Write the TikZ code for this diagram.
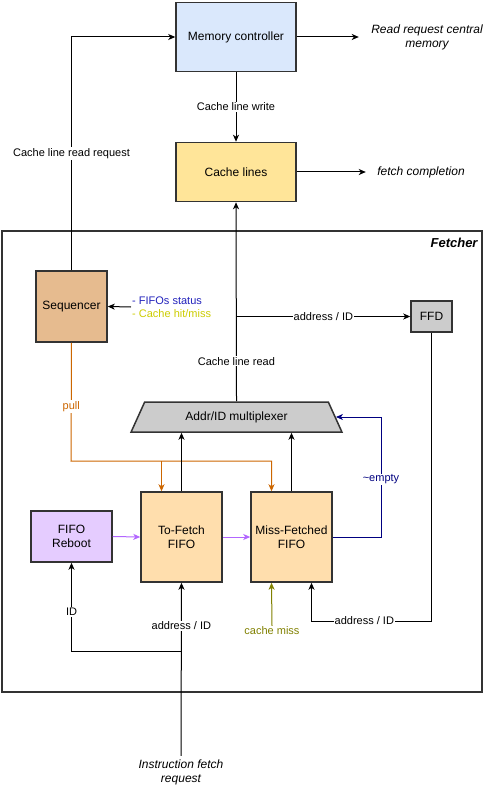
\documentclass[tikz,border=0pt]{standalone}
\usepackage{fontspec}
\setmainfont{Liberation Sans}
\usetikzlibrary{arrows.meta,shapes.geometric}

\definecolor{boxline}{HTML}{333333}
\definecolor{memblue}{HTML}{DAE8FC}
\definecolor{cacheyel}{HTML}{FFE599}
\definecolor{seqbrown}{HTML}{E6BB8F}
\definecolor{fifoorange}{HTML}{FFDEAD}
\definecolor{rebootpurple}{HTML}{E5CCFF}
\definecolor{muxgray}{HTML}{CCCCCC}
\definecolor{statusblue}{HTML}{2222BB}
\definecolor{hityellow}{HTML}{CCCC00}
\definecolor{pullorange}{HTML}{CC6600}
\definecolor{emptynavy}{HTML}{000080}
\definecolor{missolive}{HTML}{808000}
\definecolor{pushpurple}{HTML}{B266FF}

\tikzset{
  block/.style={draw=boxline, line width=1.5pt, align=center, inner sep=0pt,
    font=\fontsize{12}{14}\selectfont},
  arr/.style={-{Stealth[length=7pt,width=6pt,inset=2pt]}, line width=1pt},
  lbl/.style={fill=white, inner sep=1pt, font=\fontsize{11}{13}\selectfont},
  note/.style={align=center, font=\fontsize{12}{14}\selectfont\itshape},
}

\begin{document}
\begin{tikzpicture}[x=1pt, y=-1pt]
		\useasboundingbox (0,0) rectangle (492,802);
		
		% el marco del fetcher
		\node[draw=boxline, line width=1.5pt, minimum width=480pt, minimum height=461pt, inner sep=0pt] (fetcher) at (242,461.5) {};
		\node[anchor=north east, inner sep=0pt, font=\fontsize{13}{15}\selectfont\bfseries\itshape] (fetcherlbl) at ([shift={(-5pt,-8pt)}]fetcher.north east) {Fetcher};
		
		% bloques de arriba
		\node[block, fill=memblue, minimum width=120pt, minimum height=69pt] (mc) at (236,37) {Memory controller};
		\node[block, fill=cacheyel, minimum width=120pt, minimum height=59pt] (cl) at (236,172) {Cache lines};
		\node[note] (rdreq) at (427,37) {Read request central\\memory};
		\node[note] (fcomp) at (421,172) {fetch completion};
		
		% bloques del fetcher
		\node[block, fill=seqbrown, minimum width=71pt, minimum height=71pt] (seq) at (71.5,306.5) {Sequencer};
		\node[block, fill=muxgray, minimum width=41pt, minimum height=31pt] (ffd) at (431.5,316.5) {FFD};
		\node[block, fill=muxgray, trapezium, trapezium angle=56, trapezium stretches=true, minimum width=211pt, minimum height=30pt] (mux) at (236.5,417) {Addr/ID multiplexer};
		\node[block, fill=fifoorange, minimum width=81pt, minimum height=90pt] (tofetch) at (181.5,537) {To-Fetch\\FIFO};
		\node[block, fill=fifoorange, minimum width=81pt, minimum height=90pt] (miss) at (291.5,537) {Miss-Fetched\\FIFO};
		\node[block, fill=rebootpurple, minimum width=81pt, minimum height=51pt] (reboot) at (71.5,536.5) {FIFO\\Reboot};
		
		% textos sueltos
		\node[anchor=west, align=left, inner sep=1pt, font=\fontsize{11}{13}\selectfont] (status) at (131,307) {\textcolor{statusblue}{- FIFOs status}\\\textcolor{hityellow}{- Cache hit/miss}};
		\node[note] (ifreq) at (181,772) {Instruction fetch\\request};
		\node[lbl, text=missolive, fill=none] (cmiss) at (272,631) {cache miss};
		
		% flechas de arriba
		\draw[arr] (seq.north) |- (mc.west) node[lbl, pos=0.25] {Cache line read request};
		\draw[arr] (mc.east) -- ([xshift=-9pt]rdreq.west);
		\draw[arr] (mc.south) -- (cl.north) node[lbl, midway] {Cache line write};
		\draw[arr] (cl.east) -- ([xshift=-8pt]fcomp.west);
		\draw[arr] (mux.north) -- (cl.south) node[lbl, pos=0.2] {Cache line read};
		\draw[arr] (mux.north |- ffd.west) -- (ffd.west) node[lbl, midway] {address / ID};
		\draw[arr] (status.west) -- (seq.east);
		
		% pull
		\coordinate (pull) at (71,461);
		\draw[arr, pullorange] (seq.south) -- (pull) node[lbl, text=pullorange, pos=0.54] {pull} -| ([xshift=-20pt]miss.north);
		\draw[arr, pullorange] ([xshift=-20pt]tofetch.north |- pull) -- ([xshift=-20pt]tofetch.north);
		
		% hacia el multiplexor
		\draw[arr] (tofetch.north) -- (tofetch.north |- mux.south);
		\draw[arr] (miss.north) -- (miss.north |- mux.south);
		\coordinate (empty) at (381,537);
		\draw[arr, emptynavy] (miss.east) -- (empty) |- (mux.east) node[lbl, text=emptynavy, pos=0.24] {\textasciitilde empty};
		
		% entre las fifos
		\draw[arr, pushpurple] (reboot.east) -- (tofetch.west);
		\draw[arr, pushpurple] (tofetch.east) -- (miss.west);
		
		% abajo
		\coordinate (split) at (181.5,651);
		\draw[arr] (ifreq.north) -- (tofetch.south) node[lbl, pos=0.75] {address / ID};
		\draw[arr] (split) -| (reboot.south) node[lbl, pos=0.72] {ID};
		\draw[arr, missolive] (cmiss.north) -- ([xshift=-20pt]miss.south);
		\draw[arr] (ffd.south) -- (ffd.south |- 0,621) -| ([xshift=20pt]miss.south) node[lbl, pos=0.28] {address / ID};
		\end{tikzpicture}
\end{document}
